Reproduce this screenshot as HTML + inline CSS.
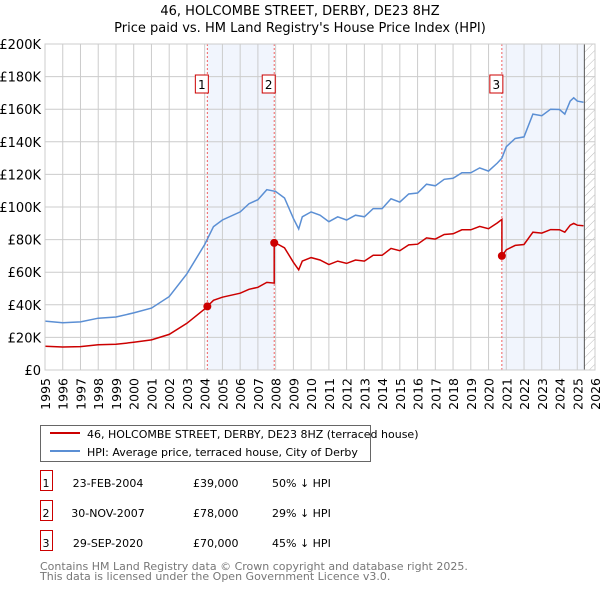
<!DOCTYPE html>
<html><head><meta charset="utf-8"><style>
body{margin:0;background:#fff;font-family:"DejaVu Sans","Liberation Sans",sans-serif;}
svg{display:block}
</style></head><body>
<svg id="chart" width="600" height="590" viewBox="0 0 600 590">
<defs><pattern id="hatch" width="6" height="6" patternUnits="userSpaceOnUse" patternTransform="rotate(45)"><line x1="0" y1="0" x2="0" y2="6" stroke="#bbb" stroke-width="1"/></pattern></defs>
<text x="300" y="15" text-anchor="middle" font-size="13" fill="#000">46, HOLCOMBE STREET, DERBY, DE23 8HZ</text>
<text x="300" y="32" text-anchor="middle" font-size="13" fill="#000">Price paid vs. HM Land Registry's House Price Index (HPI)</text>
<g id="plot"></g>
<g>
<rect x="40.5" y="425.5" width="330" height="36" fill="#fff" stroke="#666"/>
<line x1="50" y1="433" x2="80" y2="433" stroke="#cc0000" stroke-width="2"/>
<text x="87" y="438" font-size="11">46, HOLCOMBE STREET, DERBY, DE23 8HZ (terraced house)</text>
<line x1="50" y1="451" x2="80" y2="451" stroke="#5b8fd4" stroke-width="2"/>
<text x="87" y="456" font-size="11">HPI: Average price, terraced house, City of Derby</text>
</g>
<g id="table" font-size="11"></g>
<text x="40" y="570" font-size="11" fill="#777">Contains HM Land Registry data © Crown copyright and database right 2025.</text>
<text x="40" y="580" font-size="11" fill="#777">This data is licensed under the Open Government Licence v3.0.</text>
</svg>
<script>
const hpiYears=[1995,1996,1997,1998,1999,2000,2001,2002,2003,2004,2004.5,2005,2006,2006.5,2007,2007.5,2008,2008.5,2009,2009.3,2009.5,2010,2010.5,2011,2011.5,2012,2012.5,2013,2013.5,2014,2014.5,2015,2015.5,2016,2016.5,2017,2017.5,2018,2018.5,2019,2019.5,2020,2020.5,2020.75,2021,2021.5,2022,2022.5,2023,2023.5,2024,2024.3,2024.6,2024.8,2025,2025.35];
const hpiValues=[30,29,29.5,31.8,32.5,35,38,45,59,77,88,92,97,102,104.5,110.6,109.6,105.5,93,86.5,94,97,95,91,94,92,95,94,99,99,105,103,108,108.6,114,113,117,117.6,121,121,124,122,127,130,137,142,143,157,156,160,159.8,157,165,167,165,164.3];
const saleYears=[2004.15,2007.92,2020.75];
const salePrices=[39,78,70];
const saleLabels=["1","2","3"];
const saleDates=["23-FEB-2004","30-NOV-2007","29-SEP-2020"];
const salePriceText=["£39,000","£78,000","£70,000"];
const salePct=["50% ↓ HPI","29% ↓ HPI","45% ↓ HPI"];
const yTicks=[0,20,40,60,80,100,120,140,160,180,200];
const yTickLabels=["£0","£20K","£40K","£60K","£80K","£100K","£120K","£140K","£160K","£180K","£200K"];
const xYears=[1995,1996,1997,1998,1999,2000,2001,2002,2003,2004,2005,2006,2007,2008,2009,2010,2011,2012,2013,2014,2015,2016,2017,2018,2019,2020,2021,2022,2023,2024,2025,2026];
const dataEnd=2025.35;
const hatchStart=2025.4;

const X0=45,X1=595,Y0=370,Y1=44;
const xs=y=>X0+(y-1995)/(2026-1995)*(X1-X0);
const ys=v=>Y0-v/200*(Y0-Y1);
const NS="http://www.w3.org/2000/svg";
const plot=document.getElementById('plot');
function mk(tag,attrs,parent){const e=document.createElementNS(NS,tag);for(const k in attrs)e.setAttribute(k,attrs[k]);(parent||plot).appendChild(e);return e;}
function hpiAt(t){for(let i=0;i<hpiYears.length-1;i++){if(t>=hpiYears[i]&&t<=hpiYears[i+1]){const f=(t-hpiYears[i])/(hpiYears[i+1]-hpiYears[i]);return hpiValues[i]+f*(hpiValues[i+1]-hpiValues[i]);}}return hpiValues[hpiValues.length-1];}

for(let i=0;i<saleYears.length;i++){
  const end=i<saleYears.length-1?saleYears[i+1]:hatchStart;
  if(i===1)continue;
  const r=mk('rect',{x:xs(saleYears[i]),y:Y1,width:xs(end)-xs(saleYears[i]),height:Y0-Y1,fill:'#eef3fc',opacity:0.8});
  
  
}
const hr=mk('rect',{x:xs(hatchStart),y:Y1,width:X1-xs(hatchStart),height:Y0-Y1,fill:'url(#hatch)'});


yTicks.forEach((v,i)=>{
  const l=mk('line',{x1:X0,x2:X1,y1:ys(v),y2:ys(v),stroke:'#ccc','stroke-width':1});
  
  
  const t=mk('text',{x:X0-4,y:ys(v)+5,'text-anchor':'end','font-size':13,fill:'#000'});
  t.textContent=yTickLabels[i];
  
  
});
xYears.forEach(y=>{
  const l=mk('line',{x1:xs(y),x2:xs(y),y1:Y1,y2:Y0,stroke:'#ccc','stroke-width':1});
  
  
  const t=mk('text',{x:0,y:0,'text-anchor':'end','font-size':12.5,fill:'#000',transform:`translate(${xs(y)+5},378) rotate(-90)`});
  t.textContent=y;
  
  
});
const ax=mk('line',{x1:xs(hatchStart),x2:xs(hatchStart),y1:Y1,y2:Y0,stroke:'#555','stroke-width':1});


saleYears.forEach((s,i)=>{
  const l=mk('line',{x1:xs(s),x2:xs(s),y1:Y1,y2:Y0,stroke:'#f06060','stroke-width':1,'stroke-dasharray':'2,2'});
  
  
  const bx=mk('rect',{x:xs(s)-12,y:75,width:13,height:18,fill:'#fff',stroke:'#cc0000'});
  
  
  const t=mk('text',{x:xs(s)-5.5,y:89,'text-anchor':'middle','font-size':12});
  t.textContent=saleLabels[i];
  
  
});
const hp=mk('path',{d:hpiYears.map((y,i)=>(i?'L':'M')+xs(y).toFixed(1)+','+ys(hpiValues[i]).toFixed(1)).join(''),fill:'none',stroke:'#5b8fd4','stroke-width':1.5});


let pts=[];
function seg(t0,t1,k){const ts=[t0,...hpiYears.filter(y=>y>t0&&y<t1),t1];ts.forEach(t=>pts.push([t,hpiAt(t)*k]));}
seg(1995,saleYears[0],salePrices[0]/hpiAt(saleYears[0]));
for(let i=0;i<saleYears.length;i++){const end=i<saleYears.length-1?saleYears[i+1]:dataEnd;seg(saleYears[i],end,salePrices[i]/hpiAt(saleYears[i]));}
const pp=mk('path',{d:pts.map((p,i)=>(i?'L':'M')+xs(p[0]).toFixed(1)+','+ys(p[1]).toFixed(1)).join(''),fill:'none',stroke:'#cc0000','stroke-width':1.5});


saleYears.forEach((s,i)=>{
  const c=mk('circle',{cx:xs(s),cy:ys(salePrices[i]),r:4,fill:'#cc0000'});
  
  
});
const pb=mk('rect',{x:X0,y:Y1,width:X1-X0,height:Y0-Y1,fill:'none',stroke:'#ccc'});


const tb=document.getElementById('table');
saleYears.forEach((s,i)=>{
  const y=483+i*30;
  const b=mk('rect',{x:40.5,y:y-12.5,width:12,height:20,fill:'#fff',stroke:'#cc0000'},tb);
  
  
  const cols=[[46,saleLabels[i],'middle'],[108,saleDates[i],'middle'],[193,salePriceText[i],'start'],[272,salePct[i],'start']];
  cols.forEach(c=>{const t=mk('text',{x:c[0],y:y+4,'text-anchor':c[2]},tb);t.textContent=c[1];
    
    });
});
</script>
</body></html>
